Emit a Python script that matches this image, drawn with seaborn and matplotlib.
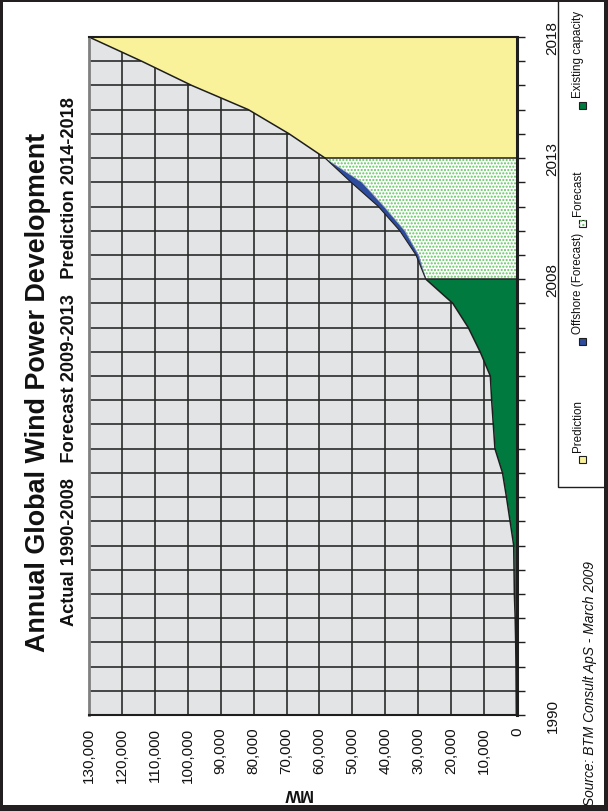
import matplotlib
matplotlib.use("Agg")
import matplotlib.pyplot as plt
from matplotlib.patches import Rectangle
from matplotlib.ticker import FixedLocator, FuncFormatter
from matplotlib import font_manager
import seaborn as sns

# Annual installed wind power, MW
years_actual = list(range(1990, 2009))
existing_capacity = [200, 250, 300, 400, 550, 800, 900, 1000, 2100, 3200,
                     4400, 6700, 7200, 7700, 8100, 11200, 14800, 19500, 27700]
years_forecast = list(range(2008, 2014))
forecast = [27700, 29900, 34100, 40400, 47100, 58300]
offshore_forecast = [0, 800, 1500, 1700, 3300, 0]
years_prediction = list(range(2013, 2019))
prediction = [58300, 69200, 81600, 98800, 114000, 130000]

mw_ticks = list(range(0, 130001, 10000))
year_ticks = list(range(1990, 2019))
year_labels = {1990: "1990", 2008: "2008", 2013: "2013", 2018: "2018"}

title = "Annual Global Wind Power Development"
subtitle = "Actual 1990-2008   Forecast 2009-2013   Prediction 2014-2018"
source = "Source: BTM Consult ApS - March 2009"
legend_labels = ["Existing capacity", "Forecast", "Offshore (Forecast)", "Prediction"]

GREEN = "#007A3E"
DOTS = "#5EC45E"
BLUE = "#2D4C9E"
YELLOW = "#FAF29A"
PLOT_BG = "#E3E4E6"
DARK = "#1E1E1E"

sns.set_style("white")
names = {f.name for f in font_manager.fontManager.ttflist}
NARROW = "Liberation Sans Narrow" if "Liberation Sans Narrow" in names else "Liberation Sans"
plt.rcParams["font.family"] = ["Liberation Sans", "DejaVu Sans"]
plt.rcParams["hatch.linewidth"] = 1.0

W, H = 608, 812
fig = plt.figure(figsize=(W / 100, H / 100), dpi=100)
fig.patch.set_facecolor("white")


def fx(x):
    return x / W


def fy(y):
    return 1 - y / H


# plot area (years run upward, MW grows to the left)
AX_L, AX_R, AX_T, AX_B = 89, 517, 38, 716
ax = fig.add_axes([fx(AX_L), fy(AX_B), (AX_R - AX_L) / W, (AX_B - AX_T) / H])
ax.set_facecolor(PLOT_BG)
ax.set_axisbelow(True)

total = [f + o for f, o in zip(forecast, offshore_forecast)]

ax.fill_betweenx(years_actual, 0, existing_capacity, color=GREEN, lw=0, zorder=2)
ax.fill_betweenx(years_forecast, 0, forecast, facecolor="white", edgecolor=DOTS,
                 hatch=".....", lw=0, zorder=2)
ax.fill_betweenx(years_forecast, forecast, total, facecolor=BLUE, lw=0, zorder=2)
ax.fill_betweenx(years_prediction, 0, prediction, facecolor=YELLOW, lw=0, zorder=2)

line_kw = dict(estimator=None, sort=False, orient="y", ax=ax, legend=False)
sns.lineplot(x=existing_capacity, y=years_actual, color=DARK, lw=1.1, zorder=4, **line_kw)
sns.lineplot(x=forecast, y=years_forecast, color="#A8AEC4", lw=0.5, zorder=4, **line_kw)
sns.lineplot(x=total, y=years_forecast, color=DARK, lw=0.8, zorder=4, **line_kw)
sns.lineplot(x=prediction, y=years_prediction, color=DARK, lw=1.1, zorder=4, **line_kw)
ax.hlines([years_forecast[0]], 0, forecast[0], color=DARK, lw=1.1, zorder=4)
ax.hlines([years_prediction[0]], 0, prediction[0], color=DARK, lw=1.1, zorder=4)

ax.set_xlim(130000, 0)
ax.set_ylim(1990, 2018)
ax.set_xlabel("")
ax.set_ylabel("")

ax.xaxis.set_major_locator(FixedLocator(mw_ticks))
ax.xaxis.set_major_formatter(FuncFormatter(lambda v, p: f"{int(v):,}"))
ax.yaxis.tick_right()
ax.set_yticks(year_ticks)
ax.set_yticklabels([year_labels.get(y, "") for y in year_ticks])
ax.grid(True, color="#2A2A2A", lw=1.2)

ax.tick_params(axis="x", direction="out", length=3.5, width=1, color=DARK,
               labelsize=11, labelrotation=90, pad=5, labelcolor="#111")
ax.tick_params(axis="y", direction="out", length=5.5, width=1, color=DARK,
               labelsize=11, labelrotation=90, pad=15, labelcolor="#111",
               left=False, right=True)
for lab in ax.get_yticklabels():
    lab.set_fontfamily(NARROW)
    lab.set_va("center")

for side, (c, lw) in {"left": ("#808080", 2.0), "right": (DARK, 2.2),
                      "top": (DARK, 1.5), "bottom": (DARK, 1.5)}.items():
    ax.spines[side].set_visible(True)
    ax.spines[side].set_color(c)
    ax.spines[side].set_linewidth(lw)
    ax.spines[side].set_zorder(5)

# axis title, drawn upside down along the value axis
fig.text(fx(297), fy(794), "MW", rotation=180, ha="center", va="center",
         fontsize=12, fontweight="bold", color="#111")

# titles
t_title = fig.text(fx(38), fy(392), title, rotation=90, ha="center", va="center",
                   fontsize=18, fontweight="bold", family=NARROW, color="#111")
t_sub = fig.text(fx(70), fy(362), subtitle, rotation=90, ha="center", va="center",
                 fontsize=11, fontweight="bold", family=NARROW, color="#111")
t_src = fig.text(fx(590), fy(806), source, rotation=90, ha="center", va="bottom",
                 fontsize=10, style="italic", color="#111")

# legend box, running off the top edge; entries sit in equal-width slots
LEG_L, LEG_B = 558, 488
fig.add_artist(Rectangle((fx(LEG_L), fy(LEG_B)), (W - LEG_L + 5) / W, (LEG_B + 5) / H,
                         transform=fig.transFigure, facecolor="white",
                         edgecolor=DARK, lw=1.0, zorder=1))
legend_items = [
    (legend_labels[0], GREEN, None, 106),
    (legend_labels[1], "white", DOTS, 224),
    (legend_labels[2], BLUE, None, 342),
    (legend_labels[3], YELLOW, None, 460),
]
legend_texts = []
for label, fc, hc, y in legend_items:
    fig.add_artist(Rectangle((fx(579), fy(y + 3.5)), 7 / W, 7 / H,
                             transform=fig.transFigure, facecolor=fc,
                             edgecolor=DARK, lw=0.8, zorder=3))
    if hc:
        fig.add_artist(Rectangle((fx(579), fy(y + 3.5)), 7 / W, 7 / H,
                                 transform=fig.transFigure, facecolor="none",
                                 edgecolor=hc, hatch="....", lw=0, zorder=3))
    legend_texts.append(fig.text(fx(578), fy(y - 8), label, rotation=90, ha="center",
                                 va="bottom", fontsize=8.5, color="#111", zorder=3))

# scale text runs to their lengths on the page
fig.canvas.draw()
renderer = fig.canvas.get_renderer()


def fit(t, length):
    h = t.get_window_extent(renderer).height
    t.set_fontsize(t.get_fontsize() * length / h)


fit(t_title, 520)
fit(t_sub, 528)
fit(t_src, 245)
fit(legend_texts[0], 86)
fs = legend_texts[0].get_fontsize()
for t in legend_texts[1:]:
    t.set_fontsize(fs)

# outer frame
FRAME = "#231F20"
for x0, y0, w, h in [(0, 0, W, 3), (0, H - 6, W, 6), (0, 0, 3, H), (W - 4, 0, 4, H)]:
    fig.add_artist(Rectangle((fx(x0), fy(y0 + h)), w / W, h / H,
                             transform=fig.transFigure, facecolor=FRAME,
                             lw=0, zorder=10))

fig.savefig("out.png", dpi=100)
